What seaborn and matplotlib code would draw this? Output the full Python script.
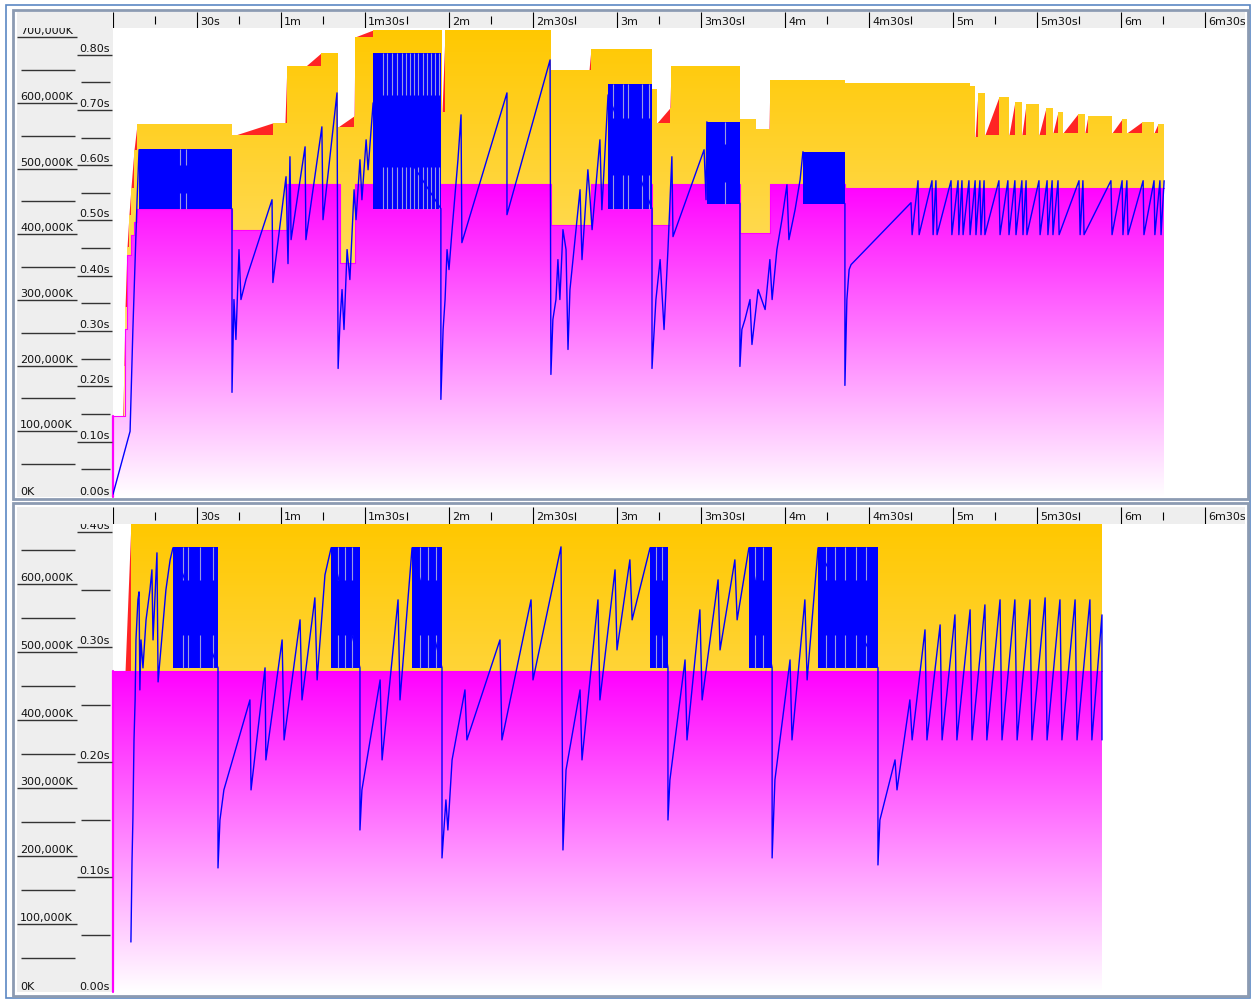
import numpy as np
import matplotlib
matplotlib.use("Agg")
import matplotlib.pyplot as plt
import matplotlib.transforms as mtrans
from matplotlib.colors import LinearSegmentedColormap
from matplotlib.patches import PathPatch, Rectangle
import seaborn as sns

sns.set_theme(style="white")
plt.rcParams["font.family"] = ["DejaVu Sans"]
plt.rcParams["font.size"] = 8

# ---------------- upper panel (run time in s, memory in K) ----------------
up_tenured_t = [0.0, 4.3, 5.0, 6.4, 7.5, 8.6, 42.5, 62.1, 81.1, 86.4,
                156.4, 170.7, 192.5, 198.9, 223.9, 234.6, 261.4, 375.4]
up_tenured_k = [122800, 255000, 369000, 399400, 419200, 438900, 407000, 476900, 356900, 476900,
                414600, 476900, 414600, 476900, 402400, 476900, 470800, 470800]

up_total_t = [0.0, 3.5, 3.9, 4.3, 5.0, 5.7, 6.4, 7.5, 8.6,
              42.5, 43.9, 57.1, 61.4, 62.1, 68.9, 74.3, 80.4, 86.1, 86.4, 92.9,
              117.5, 118.6, 156.4, 170.0, 170.7, 192.5, 194.3, 198.9, 199.3,
              223.9, 229.6, 234.3, 234.6, 261.4, 306.1, 307.9, 308.9, 311.4,
              316.4, 320.0, 322.1, 324.6, 326.1, 330.7, 333.2, 335.7, 337.5,
              339.3, 344.6, 347.1, 348.2, 356.8, 360.4, 362.1, 367.5, 371.8,
              373.2, 375.4]
up_total_k = [122800, 122800, 200000, 290000, 380000, 430000, 470000, 528600, 568100,
              551400, 551400, 569600, 569600, 656200, 656200, 676000, 563500, 580300, 700300, 711000,
              586300, 711000, 650200, 650200, 682100, 621300, 569600, 592400, 656200,
              575700, 560500, 560500, 635000, 630400, 625800, 548300, 615200, 551400,
              609100, 551400, 601500, 551400, 598500, 551400, 592400, 554400, 586300,
              554400, 583300, 554400, 580300, 554400, 575700, 554400, 571100, 554400,
              568100, 568100]

up_used_t = [0.0, 6.1, 7.1, 7.9, 8.6, 9.3, 42.5, 42.5, 43.2, 43.9,
             45.0, 45.7, 47.5, 56.8, 57.1, 61.8, 62.5, 63.2, 63.6, 68.6,
             68.9, 74.6, 75.0, 80.0, 80.4, 81.1, 81.8, 82.5, 83.6, 84.6,
             86.1, 86.8, 88.2, 88.9, 90.4, 91.1, 92.9, 117.1, 117.1, 117.9,
             118.6, 119.3, 120.0, 121.1, 123.2, 124.3, 124.6, 140.7, 140.7, 156.1,
             156.4, 157.1, 158.2, 158.9, 159.6, 160.7, 161.8, 162.5, 163.2, 165.0,
             166.8, 167.5, 169.6, 170.4, 171.1, 173.9, 174.6, 176.8, 192.5, 192.5,
             193.9, 195.4, 196.8, 198.2, 199.6, 200.0, 211.1, 211.8, 212.1, 223.9,
             223.9, 224.6, 225.7, 227.5, 228.2, 230.4, 232.9, 234.6, 235.4, 237.1,
             238.9, 240.7, 241.4, 243.6, 245.4, 246.4, 261.4, 261.4, 262.1, 262.9,
             263.6, 285.0, 285.4, 287.5, 287.9, 292.5, 292.9, 293.9, 294.3, 299.3,
             299.6, 301.8, 302.1, 303.2, 303.6, 305.7, 306.1, 307.9, 308.2, 309.6,
             310.0, 311.1, 311.4, 316.4, 316.8, 319.6, 320.0, 322.1, 322.5, 324.6,
             325.0, 326.1, 326.4, 330.7, 331.1, 333.6, 333.9, 335.4, 335.7, 337.5,
             337.9, 345.0, 345.4, 346.4, 346.8, 356.4, 356.8, 360.4, 360.7, 362.1,
             362.5, 367.9, 368.2, 371.8, 372.1, 373.9, 374.3, 375.4]
up_used_k = [4300, 100000, 255000, 361400, 452600, 528600, 438900, 159300, 300600, 239800,
             376600, 300600, 331000, 452600, 326500, 487600, 355300, 518000, 391800, 533100,
             391800, 563500, 422200, 615200, 195700, 270200, 315800, 255000, 376600, 331000,
             467800, 422200, 513400, 452600, 543800, 498200, 600000, 438900, 148600, 255000,
             300600, 376600, 346200, 407000, 513400, 581800, 387200, 615200, 429800, 665400,
             186600, 270200, 300600, 361400, 300600, 407000, 376600, 224600, 315800, 391800,
             467800, 361400, 498200, 452600, 407000, 543800, 437400, 612200, 438900, 195700,
             300600, 361400, 255000, 376600, 518000, 396400, 528600, 452600, 571100, 446500,
             198800, 255000, 270200, 300600, 232200, 315800, 285400, 361400, 300600, 376600,
             422200, 475400, 391800, 437400, 483000, 525500, 446500, 169900, 300600, 346200,
             353800, 448000, 399400, 481500, 399400, 481500, 399400, 481500, 399400, 481500,
             399400, 481500, 399400, 481500, 399400, 481500, 399400, 481500, 399400, 481500,
             399400, 481500, 399400, 481500, 399400, 481500, 399400, 481500, 399400, 481500,
             399400, 481500, 399400, 481500, 399400, 481500, 399400, 481500, 399400, 481500,
             399400, 481500, 399400, 481500, 399400, 481500, 399400, 481500, 399400, 481500,
             399400, 481500, 399400, 481500, 399400, 481500, 399400, 481500]

# bursts of very frequent young collections (drawn as solid bands)
up_burst_t0 = [9.3, 92.9, 176.8, 212.1, 246.4]
up_burst_t1 = [42.5, 117.1, 192.5, 223.9, 261.4]
up_burst_lo = [438900, 438900, 438900, 446500, 446500]
up_burst_hi = [530100, 676000, 628900, 571100, 525500]
up_burst_gaps = [23.9, 26.1, 96.4, 97.9, 99.6, 101.4, 103.2, 104.6, 106.1, 107.5,
                 108.9, 110.7, 112.1, 113.6, 115.0, 116.4, 178.6, 182.1, 183.9, 188.9,
                 191.4, 218.6]

# ---------------- lower panel ----------------
lo_tenured_t = [0.0, 353.2]
lo_tenured_k = [472100, 472100]
lo_total_t = [0.0, 4.3, 6.4, 353.2]
lo_total_k = [472100, 472100, 690000, 690000]

lo_used_t = [6.4, 6.8, 7.1, 7.5, 7.9, 8.2, 8.9, 9.3, 9.6, 10.0,
             10.7, 11.8, 13.2, 13.9, 14.3, 15.7, 16.1, 18.9, 20.4, 21.4,
             37.5, 37.5, 38.2, 39.6, 48.9, 49.3, 54.3, 54.6, 60.4, 61.1,
             66.8, 67.5, 72.1, 72.9, 75.7, 77.9, 88.2, 88.2, 88.9, 95.4,
             96.1, 101.8, 102.5, 106.8, 117.5, 117.5, 118.9, 119.6, 121.1, 125.7,
             126.4, 138.2, 138.9, 149.3, 150.0, 160.0, 160.7, 161.8, 166.8, 167.5,
             173.2, 173.9, 179.3, 180.0, 184.6, 185.4, 191.8, 198.2, 198.2, 198.9,
             204.3, 205.0, 209.6, 210.4, 216.1, 216.8, 222.1, 222.9, 227.1, 235.4,
             235.4, 236.4, 241.8, 242.5, 247.1, 247.9, 251.8, 273.2, 273.2, 273.9,
             279.3, 280.0, 284.6, 285.4, 290.0, 290.7, 295.4, 296.1, 300.7, 301.4,
             306.1, 306.8, 311.4, 312.1, 316.8, 317.5, 322.1, 322.9, 327.5, 328.2,
             332.9, 333.6, 338.2, 338.9, 343.6, 344.3, 348.9, 349.6, 353.2, 353.2]
lo_used_k = [73500, 194100, 252900, 370600, 429400, 517600, 576500, 588200, 444100, 517600,
             476500, 547100, 591200, 620600, 517600, 645600, 455900, 591200, 635300, 652900,
             476500, 182400, 252900, 297100, 429400, 297100, 476500, 341200, 517600, 370600,
             547100, 429400, 579400, 458800, 613200, 652900, 476500, 238200, 297100, 458800,
             341200, 576500, 429400, 652900, 476500, 197100, 282400, 238200, 341200, 444100,
             370600, 517600, 370600, 576500, 458800, 654400, 208800, 326500, 444100, 341200,
             576500, 429400, 620600, 502900, 635300, 547100, 652900, 476500, 252900, 311800,
             488200, 370600, 561800, 429400, 605900, 502900, 635300, 547100, 652900, 476500,
             197100, 311800, 488200, 370600, 576500, 458800, 652900, 476500, 186800, 252900,
             341200, 297100, 429400, 370600, 532400, 370600, 539700, 370600, 554400, 370600,
             561800, 370600, 569100, 370600, 576500, 370600, 576500, 370600, 576500, 370600,
             579400, 370600, 576500, 370600, 576500, 370600, 576500, 370600, 554400, 370600]

lo_burst_t0 = [21.4, 77.9, 106.8, 191.8, 227.1, 251.8]
lo_burst_t1 = [37.5, 88.2, 117.5, 198.2, 235.4, 273.2]
lo_burst_lo = [476500, 476500, 476500, 476500, 476500, 476500]
lo_burst_hi = [654400, 654400, 654400, 654400, 654400, 654400]
lo_burst_gaps = [25.0, 26.8, 31.1, 35.7, 80.4, 82.9, 85.4, 109.6, 112.5, 115.4,
                 193.9, 196.1, 229.3, 232.1, 254.6, 257.9, 261.4, 265.4, 268.9]

# scale gutter ticks
up_mem_major = [100000, 200000, 300000, 400000, 500000, 600000, 700000]
up_mem_minor = [50000, 150000, 250000, 350000, 450000, 550000, 650000]
up_pause_major = [0.10, 0.20, 0.30, 0.40, 0.50, 0.60, 0.70, 0.80]
up_pause_minor = [0.05, 0.15, 0.25, 0.35, 0.45, 0.55, 0.65, 0.75]
lo_mem_major = [100000, 200000, 300000, 400000, 500000, 600000]
lo_mem_minor = [50000, 150000, 250000, 350000, 450000, 550000, 650000]
lo_pause_major = [0.10, 0.20, 0.30, 0.40]
lo_pause_minor = [0.05, 0.15, 0.25, 0.35]

# time ruler
ruler_major = list(range(0, 391, 30))
ruler_minor = list(range(15, 406, 30))

# ---------------- drawing ----------------
W, H = 1255, 1001
fig = plt.figure(figsize=(W / 100, H / 100), dpi=100)
fig.patch.set_facecolor("white")

TIME_SPAN = (1245 - 113) / 2.8
RED = "#FF2424"
BLUE = "#0000FF"
GAP = "#9A9AE0"

tenured_cmap = LinearSegmentedColormap.from_list("tenured", ["#FFFFFF", "#FF00FF"])
young_cmap = LinearSegmentedColormap.from_list("young", ["#FFEFB0", "#FFC800"])


def box(x0, y0, x1, y1):
    return [x0 / W, 1 - y1 / H, (x1 - x0) / W, (y1 - y0) / H]


def bare(ax):
    ax.set_xticks([])
    ax.set_yticks([])
    for s in ax.spines.values():
        s.set_visible(False)


def fmt_time(t):
    m, s = divmod(int(t), 60)
    if m == 0:
        return f"{s}s"
    if s == 0:
        return f"{m}m"
    return f"{m}m{s}s"


def gradient_area(ax, t, k, cmap, top, z):
    band = ax.fill_between(t, 0, k, step="post", lw=0, facecolor="none")
    path = band.get_paths()[0]
    band.remove()
    clip = PathPatch(path, transform=ax.transData, facecolor="none", edgecolor="none")
    ax.add_patch(clip)
    grad = np.linspace(0, 1, 256).reshape(-1, 1)
    im = ax.imshow(grad, extent=[0, TIME_SPAN, 0, top], origin="lower",
                   aspect="auto", cmap=cmap, zorder=z, interpolation="bilinear")
    im.set_clip_path(clip)


def total_heap_wedges(ax, t, k):
    # the committed total heap grows between samples; show where the
    # interpolated total runs above the stepped generation sizes
    t = np.asarray(t, float)
    k = np.asarray(k, float)
    fine = np.union1d(np.linspace(t[0], t[-1], 8000), t)
    idx = np.clip(np.searchsorted(t, fine, side="right") - 1, 0, len(k) - 1)
    stepped = k[idx]
    linear = np.interp(fine, t, k)
    ax.fill_between(fine, stepped, np.maximum(linear, stepped), color=RED, lw=0, zorder=1)


def draw_panel(y_row, y_top, y_bot, mem_max, pause_max,
               ten_t, ten_k, tot_t, tot_k, used_t, used_k,
               b_t0, b_t1, b_lo, b_hi, b_gaps,
               mem_major, mem_minor, pause_major, pause_minor):
    bg = fig.add_axes(box(17, y_row, 1245, y_bot))
    bare(bg)
    bg.set_facecolor("#EEEEEE")

    ax = fig.add_axes(box(113, y_top, 1245, y_bot))
    bare(ax)
    ax.set_facecolor("white")
    total_heap_wedges(ax, tot_t, tot_k)
    gradient_area(ax, tot_t, tot_k, young_cmap, mem_max, 2)
    gradient_area(ax, ten_t, ten_k, tenured_cmap, max(ten_k), 3)
    ax.step(ten_t, ten_k, where="post", color="#FF00FF", lw=0.8, zorder=3.5)
    ax.plot([0, 0], [0, ten_k[0]], color="#FF00FF", lw=1.6, zorder=3.5, clip_on=False)
    for a, b, lo, hi in zip(b_t0, b_t1, b_lo, b_hi):
        ax.fill_between([a, b], lo, hi, color=BLUE, lw=0, zorder=4)
        band = 0.27 * (hi - lo)
        inside = [g for g in b_gaps if a < g < b]
        ax.vlines(inside, hi - band, hi, color=GAP, lw=0.8, zorder=4.2)
        ax.vlines(inside, lo, lo + band, color=GAP, lw=0.8, zorder=4.2)
    sns.lineplot(x=used_t, y=used_k, ax=ax, color=BLUE, lw=1.0,
                 sort=False, estimator=None, zorder=5)
    ax.set_xlim(0, TIME_SPAN)
    ax.set_ylim(0, mem_max)
    ax.set_xlabel("")
    ax.set_ylabel("")

    ruler = fig.add_axes(box(113, y_row, 1245, y_top))
    bare(ruler)
    ruler.set_facecolor("#EEEEEE")
    ruler.set_xlim(0, TIME_SPAN)
    ruler.set_ylim(0, 1)
    ruler.vlines(ruler_major, 0, 1, color="black", lw=0.8)
    ruler.vlines(ruler_minor, 0.22, 0.72, color="black", lw=0.8)
    shift = mtrans.offset_copy(ruler.transData, fig=fig, x=3, y=0, units="dots")
    for t in ruler_major[1:]:
        ruler.text(t, 0.4, fmt_time(t), transform=shift, va="center", ha="left",
                   fontsize=8, color="#111111", clip_on=True)

    g = fig.add_axes(box(17, y_top, 113, y_bot))
    bare(g)
    g.patch.set_alpha(0)
    g.set_xlim(17, 113)
    g.set_ylim(0, mem_max)
    lift = mtrans.offset_copy(g.transData, fig=fig, x=0, y=3, units="dots")
    lift0 = mtrans.offset_copy(g.transData, fig=fig, x=0, y=2, units="dots")
    scale = mem_max / pause_max
    for v in mem_major:
        g.hlines(v, 17, 77, color="#333333", lw=1.0)
        g.text(20, v, f"{v:,}K", transform=lift, va="baseline", ha="left",
               fontsize=8, color="#111111", clip_on=True)
    for v in mem_minor:
        g.hlines(v, 21, 75, color="#333333", lw=1.0)
    for p in pause_major:
        g.hlines(p * scale, 77, 112, color="#333333", lw=1.0)
        g.text(79, p * scale, f"{p:.2f}s", transform=lift, va="baseline", ha="left",
               fontsize=8, color="#111111", clip_on=True)
    for p in pause_minor:
        g.hlines(p * scale, 81, 110, color="#333333", lw=1.0)
    g.text(20, 0, "0K", transform=lift0, va="baseline", ha="left", fontsize=8, color="#111111")
    g.text(79, 0, "0.00s", transform=lift0, va="baseline", ha="left", fontsize=8, color="#111111")


draw_panel(12, 28, 497, 714000, 0.848,
           up_tenured_t, up_tenured_k, up_total_t, up_total_k, up_used_t, up_used_k,
           up_burst_t0, up_burst_t1, up_burst_lo, up_burst_hi, up_burst_gaps,
           up_mem_major, up_mem_minor, up_pause_major, up_pause_minor)
draw_panel(507, 524, 992, 688000, 0.407,
           lo_tenured_t, lo_tenured_k, lo_total_t, lo_total_k, lo_used_t, lo_used_k,
           lo_burst_t0, lo_burst_t1, lo_burst_lo, lo_burst_hi, lo_burst_gaps,
           lo_mem_major, lo_mem_minor, lo_pause_major, lo_pause_minor)


# window frames
def frame(x0, y0, x1, y1, color, lw):
    fig.add_artist(Rectangle((x0 / W, 1 - y1 / H), (x1 - x0) / W, (y1 - y0) / H,
                             transform=fig.transFigure, fill=False, edgecolor=color, lw=lw))


frame(6, 5, 1250, 998, "#5B88C4", 1.2)
frame(13, 10, 1248, 499, "#8C9BB2", 2.0)
frame(13, 503, 1248, 996, "#8C9BB2", 2.0)

fig.savefig("out.png", dpi=100, facecolor="white")
